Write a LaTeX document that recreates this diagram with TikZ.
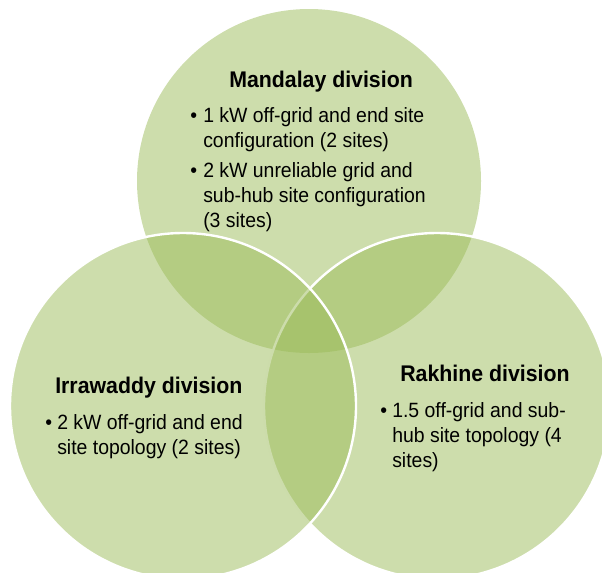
\documentclass[tikz,border=0pt]{standalone}
\usepackage{fontspec}
\setmainfont{Liberation Sans}[FakeStretch=0.94]
\definecolor{venngreen}{HTML}{9BBB59}
\begin{document}
\begin{tikzpicture}[x=0.75pt,y=-0.75pt,line join=round]
	\tikzset{division/.style={fill=venngreen,fill opacity=0.5,draw=white,line width=1.8pt},
		heading/.style={anchor=base west,inner sep=0pt,font=\bfseries\fontsize{17}{20}\selectfont},
		dot/.style={anchor=base west,inner sep=0pt,font=\fontsize{15.5}{18.75}\selectfont},
		entry/.style={anchor=base west,inner sep=0pt,align=left,font=\fontsize{15.5}{18.75}\selectfont}}
	\useasboundingbox (0,0) rectangle (602,572);
	\clip (0,0) rectangle (602,572);
	\fill[venngreen,fill opacity=0.5] (309,181) circle (172);
	\draw[division] (437,406) circle (173);
	\draw[division] (183,406) circle (173);
	\node[heading] (mandalay) at (229,87) {Mandalay division};
	\node[dot] (mandalayA) at (190,122) {•};
	\node[entry] (mandalayAtext) at (203,147) {1 kW off-grid and end site\\configuration (2 sites)};
	\node[dot] (mandalayB) at (190,177) {•};
	\node[entry] (mandalayBtext) at (203,227) {2 kW unreliable grid and\\sub-hub site configuration\\(3 sites)};
	\node[heading] (irrawaddy) at (55,393) {Irrawaddy division};
	\node[dot] (irrawaddyA) at (45,429) {•};
	\node[entry] (irrawaddyAtext) at (57,454) {2 kW off-grid and end\\site topology (2 sites)};
	\node[heading] (rakhine) at (400,381) {Rakhine division};
	\node[dot] (rakhineA) at (380,417) {•};
	\node[entry] (rakhineAtext) at (392,467) {1.5 off-grid and sub-\\hub site topology (4\\sites)};
\end{tikzpicture}
\end{document}
